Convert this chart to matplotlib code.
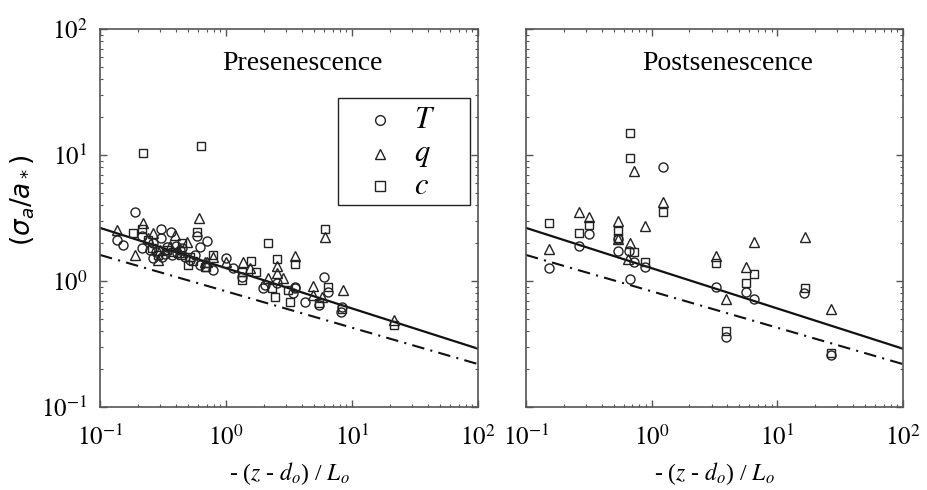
import numpy as np
import matplotlib
matplotlib.use('Agg')
import matplotlib.pyplot as plt
from matplotlib.patches import Rectangle
from matplotlib.ticker import LogLocator, FixedLocator, NullFormatter

plt.rcParams['font.family'] = ['Liberation Serif', 'DejaVu Serif']
plt.rcParams['mathtext.fontset'] = 'stix'

# Presenescence data: x = -(z-d0)/L0, y = sigma_a/a_*
pre_T_x = [0.19, 0.136, 0.152, 0.216, 0.216, 0.305, 0.305, 0.264, 0.264, 0.31, 0.366, 0.34, 0.41,
           0.45, 0.59, 0.71, 0.62, 0.57, 0.52, 0.62, 0.79, 1.0, 1.14, 1.35, 2.04, 1.97, 2.54, 3.53,
           6.0, 6.45, 3.53, 3.4, 4.24, 5.5, 8.3, 8.1, 0.28, 0.33, 0.37, 0.43, 0.47, 0.25, 0.4]
pre_T_y = [3.53, 2.11, 1.93, 2.28, 1.83, 2.59, 2.19, 2.0, 1.52, 1.55, 2.45, 1.87, 1.67,
           1.83, 2.27, 2.08, 1.87, 1.61, 1.48, 1.34, 1.22, 1.52, 1.27, 1.08, 0.93, 0.88, 0.96, 0.90,
           1.08, 0.82, 0.88, 0.80, 0.68, 0.65, 0.62, 0.57, 1.7, 1.65, 1.6, 1.75, 1.55, 1.75, 1.9]
pre_q_x = [0.61, 0.136, 0.22, 0.19, 0.264, 0.29, 0.39, 0.49, 0.71, 0.79, 0.68, 1.0, 1.36, 1.56,
           2.54, 2.54, 3.53, 2.15, 2.83, 6.1, 4.9, 8.5, 4.9, 5.78, 21.5, 0.3, 0.36, 0.42, 0.24]
pre_q_y = [3.16, 2.54, 2.88, 1.61, 2.40, 1.48, 2.33, 2.04, 1.42, 1.55, 1.42, 1.42, 1.42, 1.27,
           1.31, 1.16, 1.58, 1.06, 1.06, 2.23, 0.91, 0.85, 0.78, 0.74, 0.49, 1.75, 1.9, 1.7, 2.2]
pre_c_x = [0.219, 0.634, 6.1, 2.15, 0.216, 0.183, 0.26, 0.34, 0.45, 0.59, 0.52, 0.5, 0.69, 0.79,
           0.68, 1.58, 1.35, 1.73, 1.35, 2.54, 3.53, 2.3, 3.1, 3.2, 2.45, 6.45, 5.5, 8.3, 21.5,
           0.29, 0.38, 0.44, 0.55, 0.24]
pre_c_y = [10.4, 11.8, 2.59, 2.0, 2.59, 2.40, 1.83, 1.76, 2.0, 2.45, 1.55, 1.34, 1.29, 1.61,
           1.29, 1.45, 1.18, 1.18, 1.02, 1.50, 1.37, 0.88, 0.85, 0.68, 0.74, 0.90, 0.67, 0.60, 0.45,
           1.62, 1.7, 1.6, 1.45, 2.1]

# Postsenescence data
post_T_x = [0.152, 0.264, 0.316, 0.537, 0.537, 0.656, 0.67, 0.73, 0.88, 1.22, 3.28, 3.87, 5.68,
            6.56, 16.4, 26.8]
post_T_y = [1.27, 1.90, 2.36, 1.73, 2.15, 1.73, 1.04, 1.42, 1.29, 8.0, 0.895, 0.36, 0.82,
            0.72, 0.80, 0.26]
post_q_x = [0.152, 0.264, 0.316, 0.537, 0.67, 0.73, 0.88, 0.65, 1.22, 3.28, 3.87, 5.68, 6.56,
            16.6, 26.8, 0.537]
post_q_y = [1.80, 3.53, 3.22, 2.99, 2.0, 7.46, 2.74, 1.50, 4.24, 1.58, 0.72, 1.29, 2.04,
            2.23, 0.60, 2.15]
post_c_x = [0.152, 0.264, 0.316, 0.537, 0.537, 0.67, 0.67, 0.73, 0.88, 1.22, 3.28, 3.87, 5.68,
            6.56, 16.6, 26.8]
post_c_y = [2.88, 2.40, 2.78, 2.49, 2.2, 15.0, 9.46, 1.70, 1.42, 3.53, 1.39, 0.40, 0.96,
            1.14, 0.88, 0.27]

# fitted lines (end points)
line_x = [0.1, 100]
solid_y = [2.64, 0.29]
dashdot_y = [1.61, 0.219]

legend_labels = ['$T$', '$q$', '$c$']
legend_markers = ['o', '^', 's']

fig = plt.figure(figsize=(9.27, 4.9), dpi=100)
ax1 = fig.add_axes([0.1079, 0.1694, 0.4078, 0.7714])
ax2 = fig.add_axes([0.5674, 0.1694, 0.4067, 0.7714])

panels = [
    (ax1, 'Presenescence', pre_T_x, pre_T_y, pre_q_x, pre_q_y, pre_c_x, pre_c_y),
    (ax2, 'Postsenescence', post_T_x, post_T_y, post_q_x, post_q_y, post_c_x, post_c_y),
]

mk = dict(linestyle='none', mfc='none', mec='#222222', mew=1.0)
msize = {'o': 6.5, '^': 7, 's': 6}
for ax, title, tx, ty, qx, qy, cx, cy in panels:
    ax.set_xscale('log')
    ax.set_yscale('log')
    ax.set_xlim(0.1, 100)
    ax.set_ylim(0.1, 100)
    ax.plot(line_x, solid_y, color='#111111', lw=1.6, zorder=1)
    ax.plot(line_x, dashdot_y, color='#111111', lw=1.5, linestyle=(0, (6, 3, 1, 3)), zorder=1)
    ax.plot(tx, ty, marker='o', ms=msize['o'], **mk)
    ax.plot(qx, qy, marker='^', ms=msize['^'], **mk)
    ax.plot(cx, cy, marker='s', ms=msize['s'], **mk)
    ax.text(0.535, 0.91, title, transform=ax.transAxes, ha='center', va='center', fontsize=20)
    for sp in ax.spines.values():
        sp.set_color('#555555')
        sp.set_linewidth(1.2)
    ax.tick_params(which='both', direction='in', top=True, right=True, color='#555555')
    ax.tick_params(which='major', length=5, width=1, labelsize=18, pad=9)
    ax.tick_params(which='minor', length=2.5, width=0.8)
    ax.tick_params(axis='x', which='major', pad=13)
    ax.xaxis.set_major_locator(FixedLocator([0.1, 1, 10, 100]))
    ax.yaxis.set_major_locator(FixedLocator([0.1, 1, 10, 100]))
    ax.xaxis.set_minor_locator(LogLocator(base=10, subs=np.arange(2, 10)))
    ax.yaxis.set_minor_locator(LogLocator(base=10, subs=np.arange(2, 10)))
    ax.xaxis.set_minor_formatter(NullFormatter())
    ax.yaxis.set_minor_formatter(NullFormatter())
    ax.set_xticklabels(['$10^{-1}$', '$10^{0}$', '$10^{1}$', '$10^{2}$'])
    ax.set_xlabel(r'- ($z$ - $d_o$) / $L_o$', fontsize=17, labelpad=7)

ax1.set_yticklabels(['$10^{-1}$', '$10^{0}$', '$10^{1}$', '$10^{2}$'])
ax2.set_yticklabels([])

# legend box drawn by hand
ax1.add_patch(Rectangle((0.63, 0.534), 0.349, 0.283, transform=ax1.transAxes, fill=False,
                        edgecolor='#222222', lw=1.0, zorder=5))
rows_y = [0.759, 0.669, 0.584]
for lab, m, yy in zip(legend_labels, legend_markers, rows_y):
    ax1.plot([0.741], [yy], marker=m, ms=msize[m] + 0.5, transform=ax1.transAxes, zorder=6, **mk)
    ax1.text(0.83, yy, lab, transform=ax1.transAxes, ha='left', va='center', fontsize=22, zorder=6)

t = fig.text(0.025, 0.592, r'$(\sigma_a/a_*)$', rotation=90, ha='center', va='center', fontsize=19)
t.set_math_fontfamily('dejavusans')

fig.savefig('out.png', dpi=100)
